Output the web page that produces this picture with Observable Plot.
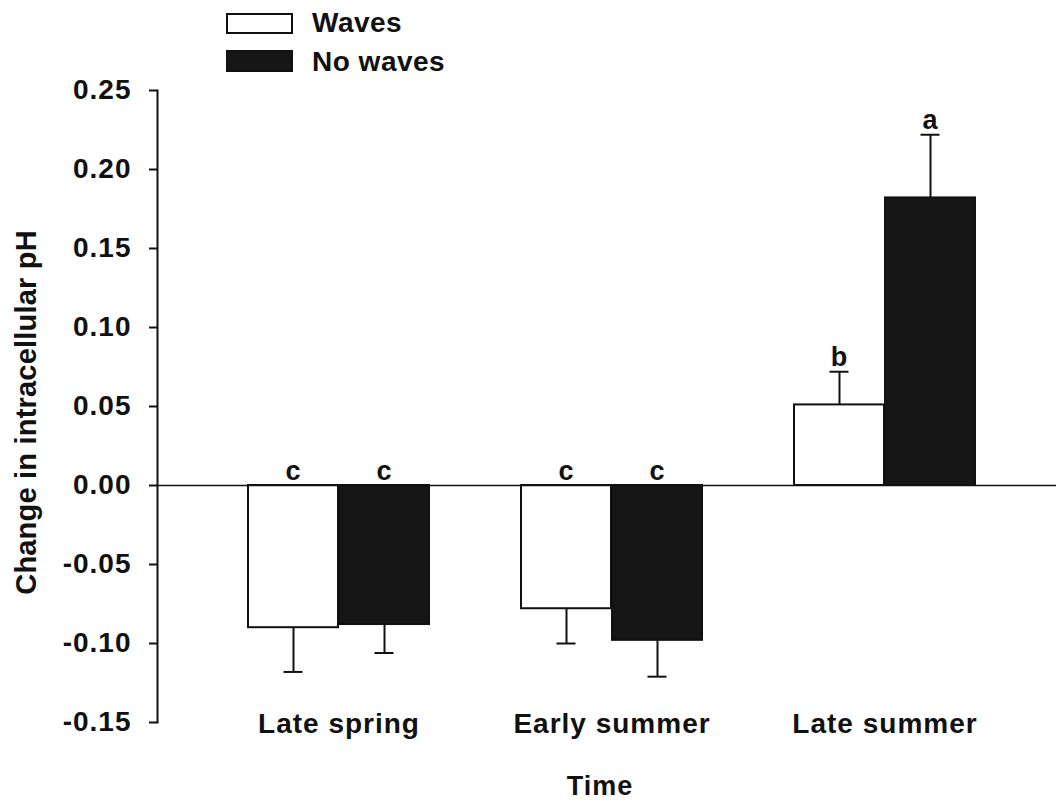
<!DOCTYPE html>
<html><head><meta charset="utf-8">
<script src="https://cdn.jsdelivr.net/npm/d3@7"></script>
<script src="https://cdn.jsdelivr.net/npm/@observablehq/plot@0.6"></script>
<style>
body{margin:0;background:#fff;}
#wrap{position:relative;width:1056px;height:802px;}
#wrap svg text{letter-spacing:1px;}
#wrap svg text.ylab{letter-spacing:0.2px;}
.sw{position:absolute;left:226px;width:67px;height:21px;box-sizing:border-box;border:2px solid #111;}
.lt{position:absolute;left:312px;font:bold 28px "Liberation Sans",Arial,sans-serif;line-height:28px;letter-spacing:0.5px;color:#111;white-space:nowrap;}
</style>
</head><body>
<div id="wrap"></div>
<script>
const times = ["Late spring", "Early summer", "Late summer"];
const series = ["Waves", "No waves"];
const seriesFill = ["#ffffff", "#161616"];
const wavesMean = [-0.090, -0.078, 0.051];
const wavesSE = [0.028, 0.022, 0.021];
const wavesLetter = ["c", "c", "b"];
const noWavesMean = [-0.088, -0.098, 0.182];
const noWavesSE = [0.018, 0.023, 0.040];
const noWavesLetter = ["c", "c", "a"];
const yTicks = [-0.15, -0.10, -0.05, 0, 0.05, 0.10, 0.15, 0.20, 0.25];

const waves = times.map((t, i) => ({time: t, mean: wavesMean[i], se: wavesSE[i], letter: wavesLetter[i]}));
const noWaves = times.map((t, i) => ({time: t, mean: noWavesMean[i], se: noWavesSE[i], letter: noWavesLetter[i]}));
const tip = d => d.mean + Math.sign(d.mean) * d.se;
const lab = d => Math.max(0, tip(d));

function group(data, fill, side) {
  const dx = side * 45.5;
  return [
    Plot.ruleX(data, {x: "time", y1: "mean", y2: tip, dx, stroke: "#111", strokeWidth: 2}),
    Plot.tickY(data, {x: "time", y: tip, dx, insetLeft: 81, insetRight: 81, stroke: "#111", strokeWidth: 2}),
    Plot.barY(data, {x: "time", y: "mean", fill, stroke: "#111", strokeWidth: 2,
      insetLeft: side > 0 ? 91 : 0, insetRight: side < 0 ? 91 : 0}),
    Plot.text(data, {x: "time", y: lab, text: "letter", dx, dy: -14, fontSize: 27, fontWeight: "bold", fill: "#111"})
  ];
}

const chart = Plot.plot({
  width: 1056, height: 802,
  marginTop: 90, marginBottom: 80, marginLeft: 157, marginRight: 0,
  style: {fontFamily: '"Liberation Sans", Arial, sans-serif', fontWeight: "bold", fontSize: "28px", color: "#111", background: "#fff"},
  x: {domain: times, paddingInner: 0.336, paddingOuter: 0.31, align: 0.53, label: null},
  y: {domain: [-0.15, 0.25], label: null},
  marks: [
    ...group(waves, seriesFill[0], -1),
    ...group(noWaves, seriesFill[1], 1),
    Plot.ruleY([0], {stroke: "#111", strokeWidth: 1.5}),
    Plot.frame({anchor: "left", stroke: "#111", strokeWidth: 2}),
    Plot.axisY({ticks: yTicks, tickFormat: d => d.toFixed(2), tickSize: 8, tickPadding: 18, label: null, strokeWidth: 2, fontSize: 28}),
    Plot.axisX({tickSize: 0, tickPadding: -9, label: null, fontSize: 28}),
    Plot.text(["Time"], {frameAnchor: "bottom", text: d => d, textAnchor: "middle", lineAnchor: "middle", dy: 64, dx: -7, fontSize: 27, fontWeight: "bold"}),
    Plot.text(["Change in intracellular pH"], {frameAnchor: "left", text: d => d, textAnchor: "middle", lineAnchor: "middle", rotate: -90, dx: -131, dy: 6, fontSize: 29, fontWeight: "bold", className: "ylab"})
  ]
});
const wrap = document.getElementById("wrap");
wrap.appendChild(chart);
chart.querySelectorAll("g.ylab text, .ylab text").forEach(t => t.classList.add("ylab"));
const tops = [13, 50];
const textTops = [9, 48];
series.forEach((s, i) => {
  const sw = document.createElement("div");
  sw.className = "sw";
  sw.style.top = tops[i] + "px";
  sw.style.background = seriesFill[i];
  if (i === 1) sw.style.height = "22px";
  wrap.appendChild(sw);
  const t = document.createElement("div");
  t.className = "lt";
  t.style.top = textTops[i] + "px";
  t.textContent = s;
  wrap.appendChild(t);
});
</script>
</body></html>
